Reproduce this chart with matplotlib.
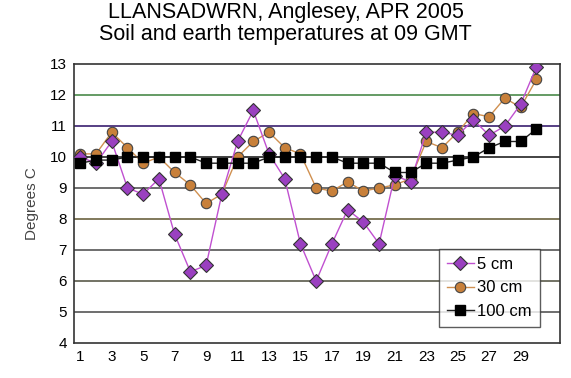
import matplotlib.pyplot as plt
import numpy as np

# Daily soil temperatures at 09 GMT, April 2005
days = np.arange(1, 31)
t5 = [10.0, 9.8, 10.5, 9.0, 8.8, 9.3, 7.5, 6.3, 6.5, 8.8,
      10.5, 11.5, 10.1, 9.3, 7.2, 6.0, 7.2, 8.3, 7.9, 7.2,
      9.4, 9.2, 10.8, 10.8, 10.7, 11.2, 10.7, 11.0, 11.7, 12.9]
t30 = [10.1, 10.1, 10.8, 10.3, 9.8, 10.0, 9.5, 9.1, 8.5, 8.8,
       10.0, 10.5, 10.8, 10.3, 10.1, 9.0, 8.9, 9.2, 8.9, 9.0,
       9.1, 9.3, 10.5, 10.3, 10.8, 11.4, 11.3, 11.9, 11.6, 12.5]
t100 = [9.8, 9.9, 9.9, 10.0, 10.0, 10.0, 10.0, 10.0, 9.8, 9.8,
        9.8, 9.8, 10.0, 10.0, 10.0, 10.0, 10.0, 9.8, 9.8, 9.8,
        9.5, 9.5, 9.8, 9.8, 9.9, 10.0, 10.3, 10.5, 10.5, 10.9]
xticks = list(range(1, 30, 2))
yticks = list(range(4, 14))

plt.rcParams['font.family'] = ['Liberation Sans', 'DejaVu Sans']

fig = plt.figure(figsize=(5.71, 3.78), dpi=100)
ax = fig.add_axes([0.1296, 0.0926, 0.851, 0.7381])

# coloured horizontal gridlines, like the original
grid_cols = {5: '#555555', 6: '#5a5a4a', 7: '#555555', 8: '#6b6240', 9: '#555555',
             10: '#222222', 11: '#3a1f70', 12: '#4a8a4a'}
for y, c in grid_cols.items():
    ax.axhline(y, color=c, lw=1.2, zorder=1)

ax.plot(days, t5, color='#c050d0', lw=1, marker='D', ms=7, mfc='#9a40c0',
        mec='#333333', mew=0.8, label='5 cm', zorder=3)
ax.plot(days, t30, color='#d09050', lw=1, marker='o', ms=7.5, mfc='#c8803a',
        mec='#444444', mew=0.8, label='30 cm', zorder=2)
ax.plot(days, t100, color='#222222', lw=1, marker='s', ms=6.5, mfc='black',
        mec='black', label='100 cm', zorder=4)

ax.set_xlim(0.6, 31.5)
ax.set_ylim(4, 13)
ax.set_xticks(xticks)
ax.set_yticks(yticks)
ax.tick_params(length=0, labelsize=11, pad=5)
for s in ax.spines.values():
    s.set_color('#333333')
    s.set_linewidth(1.2)

ax.set_ylabel('Degrees C', fontsize=11, color='#444444', labelpad=8)
fig.suptitle('LLANSADWRN, Anglesey, APR 2005\nSoil and earth temperatures at 09 GMT',
             fontsize=15.5, y=0.995, linespacing=1.05)

leg = ax.legend(loc='lower right', bbox_to_anchor=(0.959, 0.057), fontsize=12,
                frameon=True, fancybox=False, edgecolor='#333333',
                handlelength=1.6, handletextpad=0.2, borderpad=0.5,
                labelspacing=0.5, borderaxespad=0)
leg.get_frame().set_linewidth(1)

fig.savefig('out.png', dpi=100)
